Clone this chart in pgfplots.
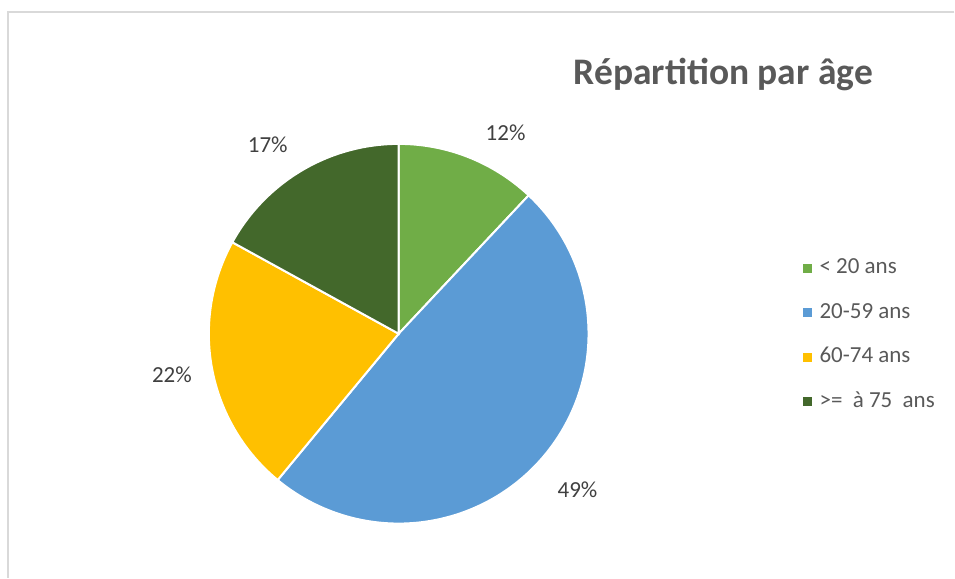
\documentclass[border=0pt]{standalone}
\usepackage{pgfplots}
\usepackage{pgfplotstable}
\pgfplotsset{compat=1.18}
\usepackage{fontspec}
\setmainfont{Carlito}
\definecolor{cA}{HTML}{70AD47}
\definecolor{cB}{HTML}{5B9BD5}
\definecolor{cC}{HTML}{FFC000}
\definecolor{cD}{HTML}{43682B}
\definecolor{titlegray}{HTML}{595959}
\definecolor{labgray}{HTML}{404040}
\definecolor{framegray}{HTML}{D9D9D9}

\pgfplotstableread{
label value
a 12
b 49
c 22
d 17
}\piedata

\pgfplotstablegetelem{0}{value}\of\piedata \let\vA=\pgfplotsretval
\pgfplotstablegetelem{1}{value}\of\piedata \let\vB=\pgfplotsretval
\pgfplotstablegetelem{2}{value}\of\piedata \let\vC=\pgfplotsretval
\pgfplotstablegetelem{3}{value}\of\piedata \let\vD=\pgfplotsretval
\pgfmathsetmacro\aA{0}
\pgfmathsetmacro\aB{\aA+3.6*\vA}
\pgfmathsetmacro\aC{\aB+3.6*\vB}
\pgfmathsetmacro\aD{\aC+3.6*\vC}
\pgfmathsetmacro\aE{\aD+3.6*\vD}

\begin{document}
\begin{tikzpicture}
\begin{axis}[
  width=955pt, height=578pt, scale only axis,
  xmin=0, xmax=955, ymin=0, ymax=578,
  hide axis, clip=false,
  legend image code/.code={\fill[#1, draw=none] (0pt,-4.5pt) rectangle (9pt,4.5pt); \path[draw=none, fill=none] (0pt,0pt) rectangle (17pt,0.1pt);},
  legend style={at={(axis cs:803,320)}, anchor=north west, draw=none, fill=none,
    inner sep=0pt, row sep=23.5pt,
    nodes={inner sep=0pt, text height=16pt, text depth=5pt, text=titlegray,
      font=\fontsize{23}{27}\selectfont}},
  legend cell align=left,
]
\path (axis cs:0,0) rectangle (axis cs:955,578);
\addplot[fill=cA, draw=white, line width=2pt, domain=\aA:\aB, samples=80, variable=\t]
  ({399+190*sin(t)},{244+190*cos(t)}) -- (axis cs:399,244) -- cycle;
\addlegendentry{< 20 ans}
\addplot[fill=cB, draw=white, line width=2pt, domain=\aB:\aC, samples=160, variable=\t]
  ({399+190*sin(t)},{244+190*cos(t)}) -- (axis cs:399,244) -- cycle;
\addlegendentry{20-59 ans}
\addplot[fill=cC, draw=white, line width=2pt, domain=\aC:\aD, samples=80, variable=\t]
  ({399+190*sin(t)},{244+190*cos(t)}) -- (axis cs:399,244) -- cycle;
\addlegendentry{60-74 ans}
\addplot[fill=cD, draw=white, line width=2pt, domain=\aD:\aE, samples=80, variable=\t]
  ({399+190*sin(t)},{244+190*cos(t)}) -- (axis cs:399,244) -- cycle;
\addlegendentry{>=\ \ à 75\ \ ans}

\draw[framegray, line width=1.5pt] (axis cs:955,566) -- (axis cs:8,566) -- (axis cs:8,0);

\node[anchor=base, font=\bfseries\fontsize{37.5}{41}\selectfont, text=titlegray] at (axis cs:724,493) {Répartition par âge};

\node[anchor=base, font=\fontsize{23}{27}\selectfont, text=labgray] at (axis cs:506,437) {12\%};
\node[anchor=base, font=\fontsize{23}{27}\selectfont, text=labgray] at (axis cs:578,80) {49\%};
\node[anchor=base, font=\fontsize{23}{27}\selectfont, text=labgray] at (axis cs:172,195) {22\%};
\node[anchor=base, font=\fontsize{23}{27}\selectfont, text=labgray] at (axis cs:268,425) {17\%};
\end{axis}
\end{tikzpicture}
\end{document}
